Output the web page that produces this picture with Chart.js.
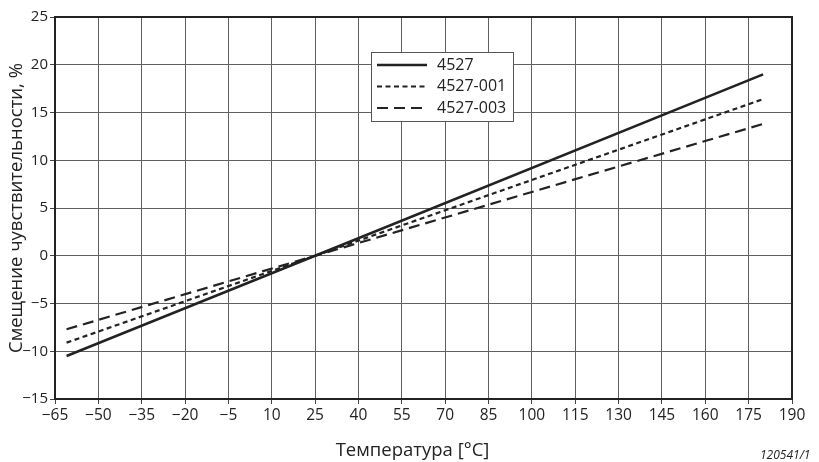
<!DOCTYPE html>
<html>
<head>
<meta charset="utf-8">
<script src="https://cdn.jsdelivr.net/npm/chart.js@4"></script>
<style>
  html, body { margin: 0; padding: 0; background: #fff; }
  #wrap { width: 819px; height: 462px; position: relative; }
</style>
</head>
<body>
<div id="wrap"><canvas id="c" width="819" height="462"></canvas></div>
<script>
const temperatures = [-61, 25, 180];
const series4527 = [-10.5, 0, 19.0];
const series4527_001 = [-9.1, 0, 16.4];
const series4527_003 = [-7.7, 0, 13.8];
const seriesLabels = ['4527', '4527-001', '4527-003'];
const xTitle = 'Температура [°C]';
const yTitle = 'Смещение чувствительности, %';
const footnote = '120541/1';

const FONT = "'Open Sans', 'DejaVu Sans', sans-serif";
const INK = '#222';

function pts(ys) { return temperatures.map((t, i) => ({x: t, y: ys[i]})); }
function minusFmt(v) { return v < 0 ? '\u2212' + Math.abs(v) : String(v); }

const dashes = [[], [5, 3.5], [11, 6]];
const widths = [2.5, 2.2, 2.2];

const frameAndLegend = {
  id: 'frameAndLegend',
  afterDatasetsDraw(chart) {
    const {ctx, chartArea: a} = chart;
    ctx.save();
    ctx.strokeStyle = INK;
    ctx.lineWidth = 2;
    ctx.strokeRect(a.left, a.top, a.right - a.left, a.bottom - a.top);
    // legend box
    const bx = a.left + 316, by = a.top + 35, bw = 142, bh = 69;
    ctx.fillStyle = '#fff';
    ctx.fillRect(bx, by, bw, bh);
    ctx.strokeStyle = '#555';
    ctx.lineWidth = 1;
    ctx.strokeRect(bx + 0.5, by + 0.5, bw, bh);
    chart.data.datasets.forEach((ds, i) => {
      const yy = by + 13 + i * 21.5;
      ctx.strokeStyle = INK;
      ctx.lineWidth = ds.borderWidth;
      ctx.setLineDash(ds.borderDash || []);
      ctx.beginPath();
      ctx.moveTo(bx + 6, yy);
      ctx.lineTo(bx + 56, yy);
      ctx.stroke();
      ctx.setLineDash([]);
      ctx.fillStyle = INK;
      ctx.font = '16px ' + FONT;
      ctx.textBaseline = 'middle';
      ctx.textAlign = 'left';
      ctx.fillText(ds.label, bx + 66, yy);
    });
    // x axis title
    ctx.font = '18.5px ' + FONT;
    ctx.textAlign = 'center';
    ctx.textBaseline = 'middle';
    ctx.fillStyle = INK;
    ctx.fillText(xTitle, (a.left + a.right) / 2 - 11, 451);
    // footnote
    ctx.font = 'italic 12px ' + FONT;
    ctx.textAlign = 'left';
    ctx.textBaseline = 'alphabetic';
    ctx.fillText(footnote, 760, 459);
    ctx.restore();
  }
};

new Chart(document.getElementById('c'), {
  type: 'scatter',
  data: {
    datasets: [series4527, series4527_001, series4527_003].map((s, i) => ({
      label: seriesLabels[i],
      data: pts(s),
      showLine: true,
      borderColor: INK,
      backgroundColor: INK,
      borderWidth: widths[i],
      borderDash: dashes[i],
      pointRadius: 0,
      tension: 0
    }))
  },
  options: {
    responsive: false,
    animation: false,
    devicePixelRatio: 1,
    layout: { padding: { left: 0, top: 17, right: 27, bottom: 0 } },
    plugins: { legend: { display: false }, tooltip: { enabled: false } },
    scales: {
      x: {
        type: 'linear', min: -65, max: 190,
        afterFit(s) { s.height = 63; },
        ticks: { stepSize: 15, color: INK, font: { family: FONT, size: 15.5 }, padding: 2, callback: minusFmt, maxRotation: 0, autoSkip: false },
        grid: { color: '#606060', lineWidth: 1, tickLength: 5, tickColor: '#444' },
        border: { display: true, color: INK, width: 2 },
        title: { display: false }
      },
      y: {
        type: 'linear', min: -15, max: 25,
        afterFit(s) { s.width = 55; },
        ticks: { stepSize: 5, color: INK, font: { family: FONT, size: 15 }, padding: 2, callback: minusFmt },
        grid: { color: '#606060', lineWidth: 1, tickLength: 5, tickColor: '#444' },
        border: { display: true, color: INK, width: 2 },
        title: { display: true, text: yTitle, color: INK, font: { family: FONT, size: 18.5 }, padding: { top: 6, bottom: 0 } }
      }
    }
  },
  plugins: [frameAndLegend]
});
</script>
</body>
</html>
